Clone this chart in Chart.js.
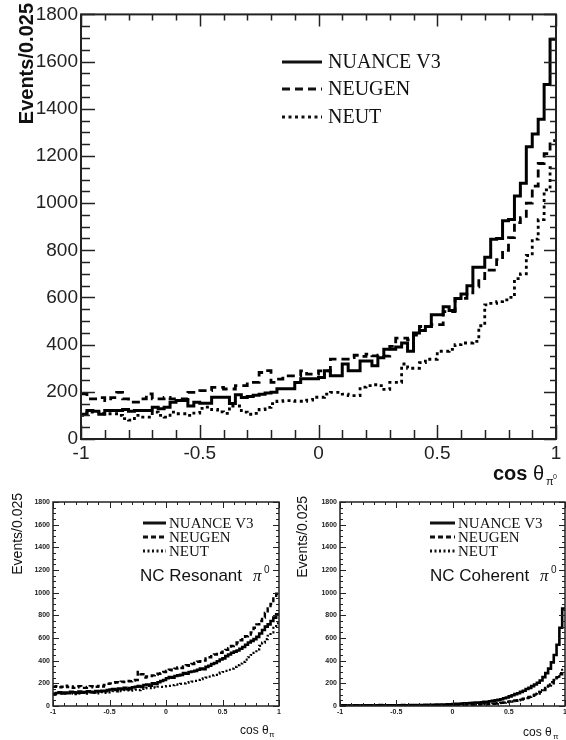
<!DOCTYPE html>
<html>
<head>
<meta charset="utf-8">
<script src="https://cdn.jsdelivr.net/npm/chart.js@4.4.1/dist/chart.umd.min.js"></script>
<style>
  html, body { margin: 0; padding: 0; background: #fff; overflow: hidden; }
  #page { position: relative; width: 566px; height: 740px; overflow: hidden; background: #fff; }
  canvas { position: absolute; }
</style>
</head>
<body>
<div id="page">
  <canvas id="main" width="566" height="490" style="left:0;top:0"></canvas>
  <canvas id="res" width="283" height="250" style="left:0;top:490px"></canvas>
  <canvas id="coh" width="300" height="250" style="left:283px;top:490px"></canvas>
</div>
<script>
// histogram binning: 80 bins of 0.025 in cos(theta)
const X_LOW = -1;
const X_HIGH = 1;
const BIN_W = 0.025;

const seriesNames = ["NUANCE V3", "NEUGEN", "NEUT"];

// all NC pi0 (top plot)
const allNuance = [
  105,121,118,105,121,121,121,125,118,121,
  121,121,135,128,135,156,163,163,140,156,
  152,152,177,177,177,150,188,176,180,185,
  190,195,198,213,213,213,240,255,255,255,
  261,289,268,268,318,289,289,331,331,310,
  344,381,381,390,407,372,449,460,477,527,
  527,561,545,596,615,650,728,728,770,847,
  850,925,930,1030,1084,1239,1293,1356,1503,1695
];
const allNeugen = [
  191,170,170,175,163,175,198,170,156,156,
  170,191,170,170,176,170,170,170,198,198,
  205,205,219,219,212,212,226,226,240,240,
  282,290,240,254,268,268,268,289,275,275,
  289,289,339,339,339,345,355,350,360,352,
  355,351,393,428,428,420,440,477,477,485,
  485,540,540,596,596,620,645,680,716,716,
  760,800,854,917,938,1000,1072,1168,1210,1265
];
const allNeut = [
  100,114,114,107,107,107,100,86,80,100,
  93,93,114,100,93,114,107,107,100,110,
  130,135,125,115,109,140,140,114,105,109,
  125,134,150,160,163,163,160,160,165,177,
  177,190,198,198,190,184,184,220,226,230,
  226,210,240,240,318,300,300,324,338,338,
  372,372,380,400,407,407,414,480,569,575,
  582,590,600,680,700,778,847,930,1056,1150
];

// NC resonant pi0 (bottom left)
const resNuance = [
  105,115,120,110,118,112,125,120,115,128,
  118,122,130,125,120,132,128,135,130,140,
  145,150,142,155,150,160,148,158,165,170,
  175,168,185,190,180,200,195,210,220,230,
  245,255,250,265,270,275,290,285,300,305,
  310,320,330,325,345,355,370,380,395,410,
  420,440,455,470,480,490,505,520,540,560,
  575,590,610,640,670,700,720,750,780,810
];
const resNeugen = [
  170,175,165,170,180,168,172,160,165,175,
  170,160,168,175,165,170,178,172,185,195,
  200,205,210,208,215,212,220,218,225,230,
  300,280,250,260,265,270,275,285,290,300,
  310,320,315,330,340,335,350,360,355,370,
  380,390,395,400,420,430,440,455,460,470,
  480,495,510,530,545,560,580,600,615,630,
  650,690,720,750,780,820,860,900,950,990
];
const resNeut = [
  110,115,118,112,108,115,120,110,105,112,
  118,115,110,120,115,112,118,122,115,120,
  125,130,128,135,132,140,138,135,142,145,
  140,150,155,160,158,165,162,170,168,172,
  175,178,185,190,188,195,200,205,210,215,
  222,230,238,245,250,260,270,275,285,295,
  300,310,320,330,345,360,375,390,410,430,
  450,470,500,530,560,590,620,650,690,730
];

// NC coherent pi0 (bottom right)
const cohNuance = [
  4,6,5,3,5,6,4,5,7,5,
  6,4,5,6,8,5,6,7,5,6,
  7,6,8,7,6,9,8,7,9,8,
  10,9,11,10,12,11,13,12,14,15,
  18,20,19,22,24,23,26,28,30,29,
  33,36,38,42,45,50,55,60,68,75,
  85,95,105,112,125,135,150,160,175,190,
  205,225,255,290,330,385,450,540,690,860
];
const cohNeugen = [
  3,2,4,3,2,3,4,2,3,3,
  2,4,3,3,2,4,3,3,4,3,
  4,3,5,4,3,4,5,4,4,5,
  5,4,6,5,5,6,5,6,7,6,
  5,6,5,7,8,7,9,10,9,12,
  14,13,16,18,20,22,25,28,32,36,
  40,44,48,52,58,64,72,80,90,100,
  110,125,140,160,180,200,225,255,280,300
];
const cohNeut = [
  2,1,2,3,2,1,2,2,3,2,
  2,1,2,3,2,2,3,2,2,3,
  3,2,3,3,2,3,4,3,3,4,
  3,4,4,3,4,5,4,4,5,4,
  4,5,6,5,7,8,9,10,12,11,
  14,16,18,20,22,25,28,30,29,32,
  35,40,45,50,55,62,70,80,95,110,
  125,140,155,170,190,210,230,260,290,320
];

const Y_MAX = 1800;

function histPoints(values) {
  const pts = values.map((v, i) => ({ x: X_LOW + i * BIN_W, y: v }));
  pts.push({ x: X_HIGH, y: values[values.length - 1] });
  return pts;
}

// ticks drawn inside the frame on all four sides, ROOT style
const frameTicks = {
  id: "frameTicks",
  afterDatasetsDraw(chart, args, o) {
    const { ctx, chartArea: a, scales: { x, y } } = chart;
    ctx.save();
    ctx.strokeStyle = "#222";
    ctx.lineWidth = o.tickWidth;
    ctx.beginPath();
    let n = Math.round((x.max - x.min) / o.xMinor);
    for (let k = 0; k <= n; k++) {
      const v = x.min + k * o.xMinor;
      const major = Math.abs(v / o.xMajor - Math.round(v / o.xMajor)) < 1e-6;
      const px = Math.round(x.getPixelForValue(v)) + 0.5;
      const lb = major ? o.majB : o.minB;
      const lt = major ? o.majT : o.minT;
      ctx.moveTo(px, a.bottom); ctx.lineTo(px, a.bottom - lb);
      ctx.moveTo(px, a.top); ctx.lineTo(px, a.top + lt);
    }
    n = Math.round((y.max - y.min) / o.yMinor);
    for (let k = 0; k <= n; k++) {
      const v = y.min + k * o.yMinor;
      const major = Math.abs(v / o.yMajor - Math.round(v / o.yMajor)) < 1e-6;
      const py = Math.round(y.getPixelForValue(v)) + 0.5;
      const lb = major ? o.majB : o.minB;
      const lt = major ? o.majT : o.minT;
      ctx.moveTo(a.left, py); ctx.lineTo(a.left + lb, py);
      ctx.moveTo(a.right, py); ctx.lineTo(a.right - lt, py);
    }
    ctx.stroke();
    ctx.lineWidth = o.frameWidth;
    ctx.strokeRect(a.left, a.top, a.right - a.left, a.bottom - a.top);
    ctx.restore();
  }
};

// legend with line samples + free text labels
const annotations = {
  id: "annotations",
  afterDraw(chart, args, o) {
    const ctx = chart.ctx;
    ctx.save();
    ctx.fillStyle = "#111";
    ctx.strokeStyle = "#111";
    chart.data.datasets.forEach((ds, i) => {
      const yy = o.legend.y[i];
      ctx.lineWidth = o.legend.lineWidth;
      ctx.setLineDash(ds.borderDash || []);
      ctx.beginPath();
      ctx.moveTo(o.legend.x1, yy);
      ctx.lineTo(o.legend.x2, yy);
      ctx.stroke();
      ctx.setLineDash([]);
      ctx.font = o.legend.font;
      ctx.textBaseline = "middle";
      ctx.textAlign = "left";
      ctx.fillText(ds.label, o.legend.tx, yy + 1);
    });
    o.texts.forEach(t => {
      ctx.save();
      ctx.font = t.font;
      ctx.textAlign = t.align || "left";
      ctx.textBaseline = "alphabetic";
      ctx.translate(t.x, t.y);
      if (t.rot) ctx.rotate(t.rot);
      ctx.fillText(t.text, 0, 0);
      ctx.restore();
    });
    ctx.restore();
  }
};

function makeChart(id, values, cfg) {
  const styles = cfg.styles;
  return new Chart(document.getElementById(id), {
    type: "line",
    data: {
      datasets: values.map((vals, i) => ({
        label: seriesNames[i],
        data: histPoints(vals),
        stepped: true,
        borderColor: "#000",
        borderWidth: styles[i].w,
        borderDash: styles[i].dash,
        borderCapStyle: "butt",
        pointRadius: 0,
        fill: false
      }))
    },
    options: {
      responsive: false,
      animation: false,
      layout: { padding: cfg.padding },
      plugins: {
        legend: { display: false },
        tooltip: { enabled: false },
        frameTicks: cfg.ticks,
        annotations: cfg.notes
      },
      scales: {
        x: {
          type: "linear", min: X_LOW, max: X_HIGH,
          grid: { display: false, drawTicks: false },
          border: { display: false },
          ticks: {
            stepSize: 0.5, autoSkip: false, maxRotation: 0,
            padding: cfg.xPad, color: "#222", font: cfg.tickFont,
            callback: v => String(v)
          },
          afterFit: s => { s.height = cfg.xAxisH; }
        },
        y: {
          min: 0, max: Y_MAX,
          grid: { display: false, drawTicks: false },
          border: { display: false },
          ticks: {
            stepSize: 200, autoSkip: false,
            padding: cfg.yPad, color: "#222", font: cfg.tickFont,
            callback: v => String(v)
          },
          afterFit: s => { s.width = cfg.yAxisW; }
        }
      }
    },
    plugins: [frameTicks, annotations]
  });
}

const bigStyles = [
  { w: 3, dash: [] },
  { w: 2.8, dash: [8, 5] },
  { w: 2.8, dash: [3, 3.5] }
];
const smallStyles = [
  { w: 2.6, dash: [] },
  { w: 2.4, dash: [5, 3] },
  { w: 2.2, dash: [2, 2.5] }
];

makeChart("main", [allNuance, allNeugen, allNeut], {
  styles: bigStyles,
  padding: { left: 0, right: 10, top: 9, bottom: 0 },
  xAxisH: 51, yAxisW: 81, xPad: 3, yPad: 3,
  tickFont: { family: "Liberation Sans", size: 19 },
  ticks: { tickWidth: 1.5, frameWidth: 2, xMajor: 0.5, xMinor: 0.1, yMajor: 200, yMinor: 50,
           majB: 14, minB: 9, majT: 12, minT: 6 },
  notes: {
    legend: { x1: 282, x2: 322, tx: 328, y: [62, 89, 117], lineWidth: 3,
              font: "20px 'Liberation Serif'" },
    texts: [
      { text: "Events/0.025", x: 33, y: 3, rot: -Math.PI / 2, align: "right",
        font: "bold 20px 'Liberation Sans'" },
      { text: "cos", x: 493, y: 480, font: "bold 20px 'Liberation Sans'" },
      { text: "θ", x: 533, y: 480, font: "20px 'Liberation Sans'" },
      { text: "π", x: 546, y: 485, font: "11px 'Liberation Sans'" },
      { text: "0", x: 553, y: 479, font: "7px 'Liberation Sans'" }
    ]
  }
});

const smallTicks = { tickWidth: 1, frameWidth: 1.5, xMajor: 0.5, xMinor: 0.1, yMajor: 200, yMinor: 50,
                     majB: 6, minB: 3, majT: 6, minT: 3 };
const smallFont = { family: "Liberation Sans", size: 7, weight: "bold" };

makeChart("res", [resNuance, resNeugen, resNeut], {
  styles: smallStyles,
  padding: { left: 0, right: 4, top: 12, bottom: 0 },
  xAxisH: 34, yAxisW: 53, xPad: 2, yPad: 3,
  tickFont: smallFont,
  ticks: smallTicks,
  notes: {
    legend: { x1: 143, x2: 166, tx: 169, y: [33, 47, 61], lineWidth: 3,
              font: "15px 'Liberation Serif'" },
    texts: [
      { text: "Events/0.025", x: 22, y: 3, rot: -Math.PI / 2, align: "right",
        font: "14px 'Liberation Sans'" },
      { text: "NC Resonant", x: 140, y: 91, font: "17px 'Liberation Sans'" },
      { text: "π", x: 253, y: 91, font: "italic 17px 'Liberation Serif'" },
      { text: "0", x: 264, y: 83, font: "10px 'Liberation Sans'" },
      { text: "cos θ", x: 240, y: 244, font: "12px 'Liberation Sans'" },
      { text: "π", x: 269, y: 247, font: "8px 'Liberation Sans'" }
    ]
  }
});

makeChart("coh", [cohNuance, cohNeugen, cohNeut], {
  styles: smallStyles,
  padding: { left: 0, right: 18, top: 12, bottom: 0 },
  xAxisH: 34, yAxisW: 57, xPad: 2, yPad: 3,
  tickFont: smallFont,
  ticks: smallTicks,
  notes: {
    legend: { x1: 147, x2: 172, tx: 175, y: [33, 47, 61], lineWidth: 3,
              font: "15px 'Liberation Serif'" },
    texts: [
      { text: "Events/0.025", x: 24, y: 6, rot: -Math.PI / 2, align: "right",
        font: "14px 'Liberation Sans'" },
      { text: "NC Coherent", x: 147, y: 91, font: "17px 'Liberation Sans'" },
      { text: "π", x: 257, y: 91, font: "italic 17px 'Liberation Serif'" },
      { text: "0", x: 268, y: 83, font: "10px 'Liberation Sans'" },
      { text: "cos θ", x: 240, y: 246, font: "12px 'Liberation Sans'" },
      { text: "π", x: 270, y: 249, font: "8px 'Liberation Sans'" }
    ]
  }
});
</script>
</body>
</html>
